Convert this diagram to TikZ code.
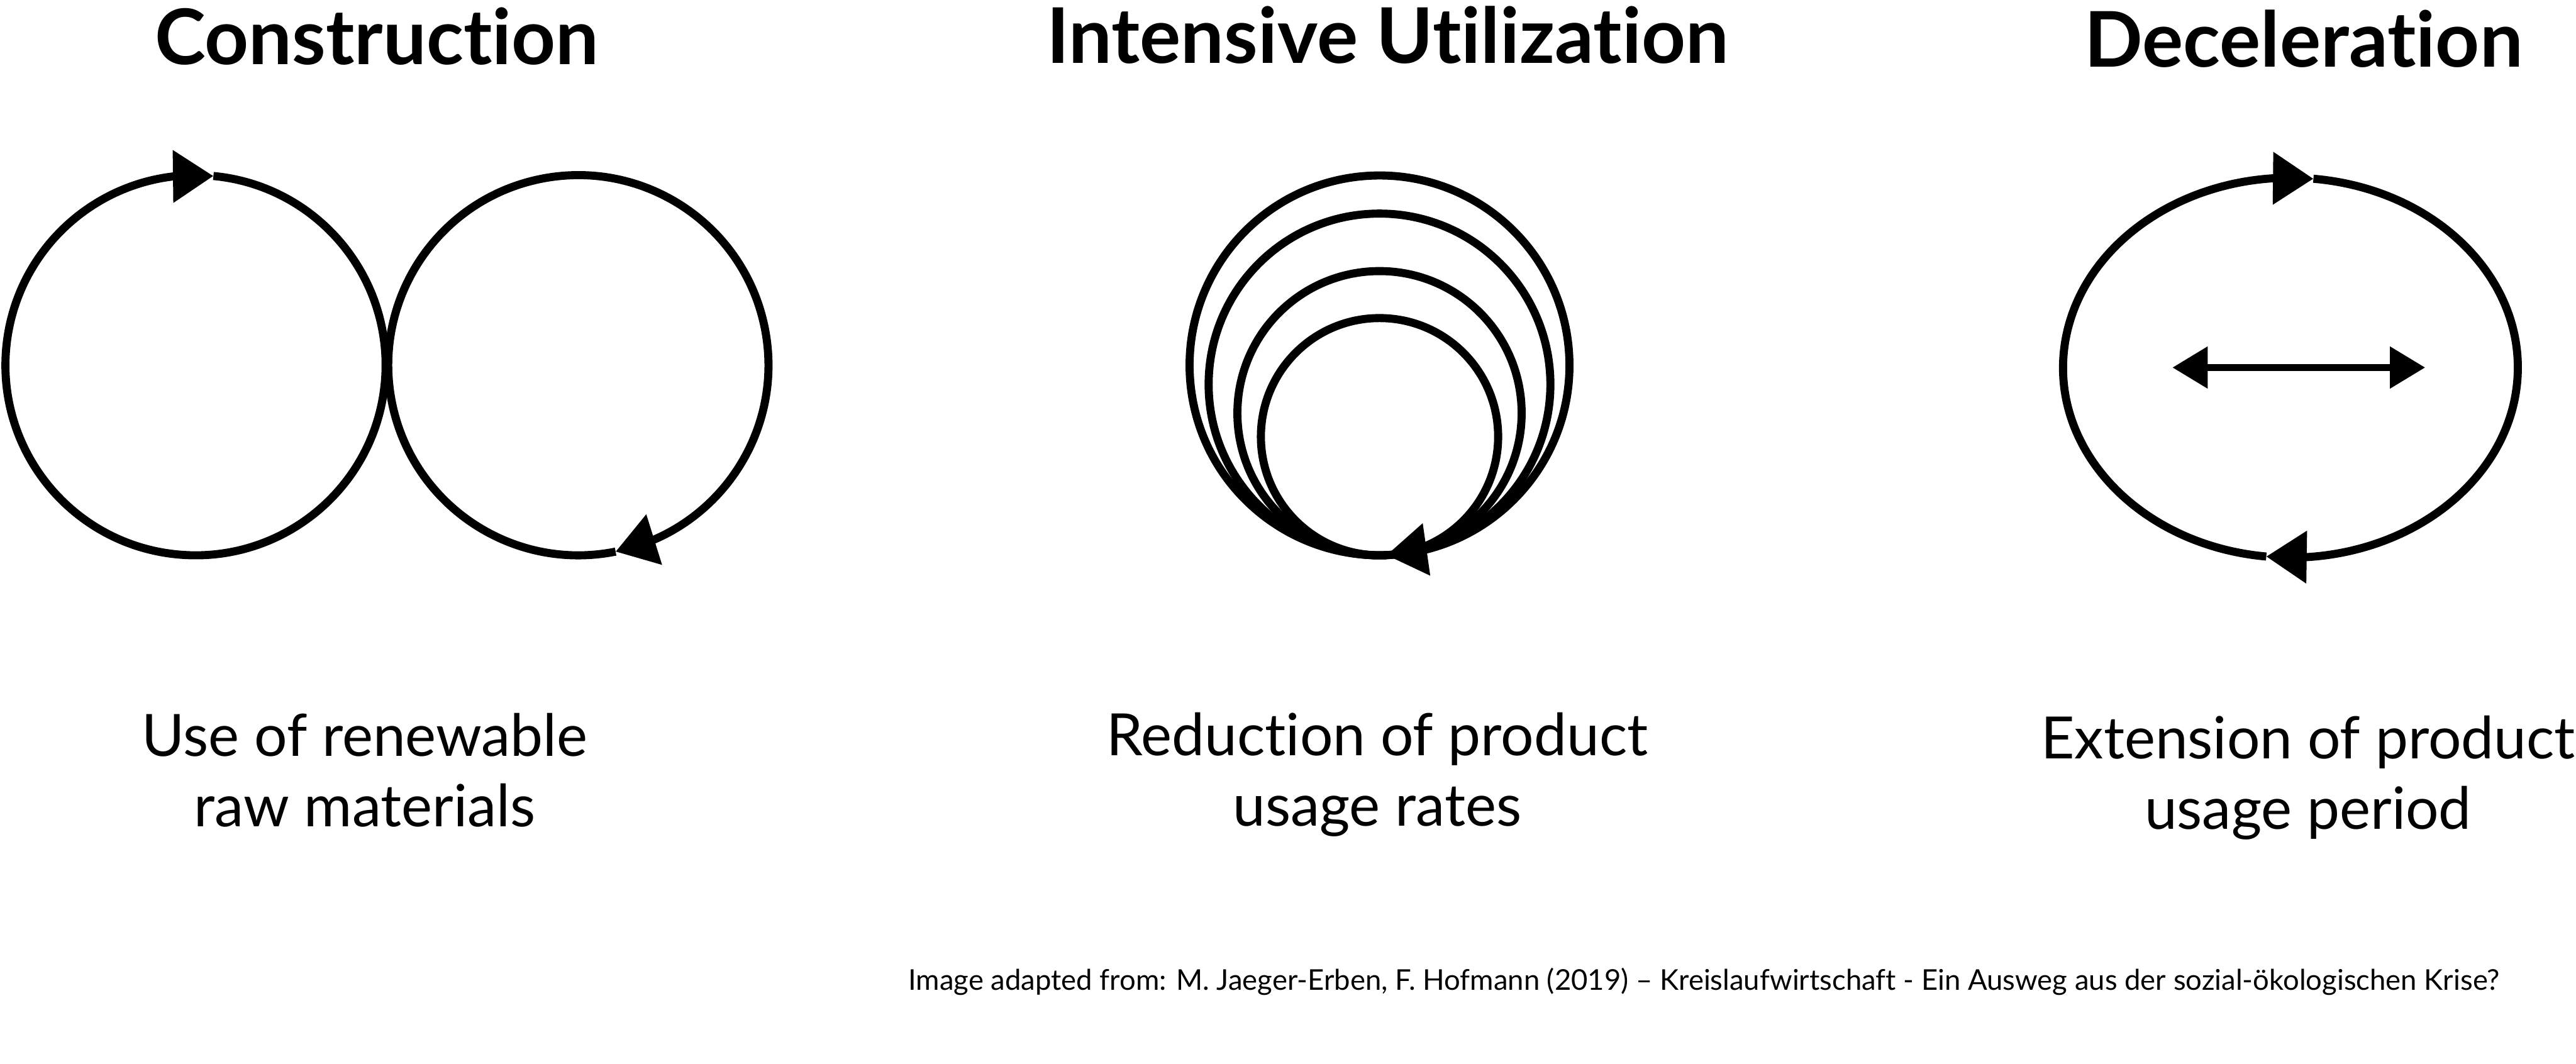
\documentclass[tikz,border=0pt]{standalone}
\usepackage{fontspec}
\setmainfont{Lato}[Ligatures={TeX,NoCommon}]
\usetikzlibrary{arrows.meta,bending}

\begin{document}
\begin{tikzpicture}[
    cycarrow/.style={line width=1.4pt,-{Triangle[length=7pt,width=8.8pt]}},
    ring/.style={line width=1.4pt},
    dblarrow/.style={line width=1.2pt,{Triangle[length=6.1pt,width=7pt]}-{Triangle[length=6.1pt,width=7pt]}},
    heading/.style={font=\bfseries\fontsize{13.3}{16}\selectfont,anchor=base},
    caption/.style={font=\fontsize{10.1}{12.2}\selectfont,align=center,anchor=base},
    source/.style={font=\fontsize{4.95}{6}\selectfont,anchor=base}
  ]
    \useasboundingbox (0,0) rectangle (15.678,6.473);

    % headings
    \node[heading] (h1) at (2.294,6.081) {Construction};
    \node[heading] (h2) at (8.446,6.088) {Intensive Utilization};
    \node[heading] (h3) at (14.021,6.067) {Deceleration};

    % construction: two loops
    \coordinate (c1) at (1.19,4.25);
    \coordinate (c2) at (3.52,4.25);
    \draw[cycarrow] ([shift={(84.6:1.157)}]c1) arc[start angle=84.6,end angle=-275.4,radius=1.157];
    \draw[cycarrow] ([shift={(-78.7:1.157)}]c2) arc[start angle=-78.7,end angle=-438.7,radius=1.157];

    % intensive utilization: nested loops touching at the bottom
    \coordinate (b) at (8.396,3.093);
    \coordinate (u1) at (8.396,4.249);
    \draw[cycarrow] ([shift={(-87.9:1.156)}]u1) arc[start angle=-87.9,end angle=-447.9,radius=1.156];
    \foreach \r in {1.040,0.865,0.722}
      \draw[ring] (b) ++(0,\r) circle (\r);

    % deceleration: stretched loop
    \coordinate (e) at (13.940,4.235);
    \draw[cycarrow] ([shift={(84.2:1.384 and 1.156)}]e) arc[start angle=84.2,end angle=-96.1,x radius=1.384,y radius=1.156];
    \draw[cycarrow] ([shift={(-96.1:1.384 and 1.156)}]e) arc[start angle=-96.1,end angle=-275.8,x radius=1.384,y radius=1.156];
    \coordinate (dl) at (13.222,4.236);
    \coordinate (dr) at (14.760,4.236);
    \draw[dblarrow] (dl) -- (dr);

    % captions (base = last line)
    \node[caption] (l1) at (2.22,1.443) {Use of renewable\\raw materials};
    \node[caption] (l2) at (8.382,1.447) {Reduction of product\\usage rates};
    \node[caption] (l3) at (14.047,1.426) {Extension of product\\usage period};

    \node[source] (src) at (10.371,0.448) {Image adapted from: M. Jaeger-Erben, F. Hofmann (2019) – Kreislaufwirtschaft - Ein Ausweg aus der sozial-ökologischen Krise?};
  \end{tikzpicture}
\end{document}
